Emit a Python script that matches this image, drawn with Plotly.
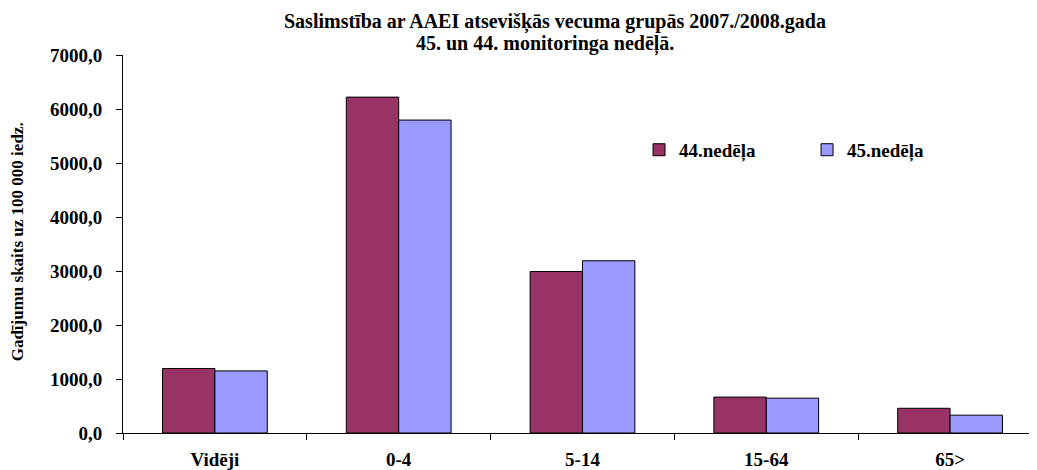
import plotly.graph_objects as go

categories = ["Vidēji", "0-4", "5-14", "15-64", "65>"]
week44 = [1195, 6220, 2990, 665, 458]
week45 = [1150, 5795, 3190, 645, 330]
series_names = ["44.nedēļa", "45.nedēļa"]
title_line1 = "Saslimstība ar AAEI atsevišķās vecuma grupās 2007./2008.gada"
title_line2 = "45. un 44. monitoringa nedēļā."
y_title = "Gadījumu skaits uz 100 000 iedz."

FONT = "Liberation Serif"

fig = go.Figure()
fig.add_trace(go.Bar(x=categories, y=week44, name=series_names[0],
                     marker=dict(color="#993366", line=dict(color="black", width=1))))
fig.add_trace(go.Bar(x=categories, y=week45, name=series_names[1],
                     marker=dict(color="#9999FF", line=dict(color="black", width=1))))

fig.update_layout(
    width=1029, height=462,
    margin=dict(l=115, r=0, t=47, b=35, pad=0),
    paper_bgcolor="white", plot_bgcolor="white",
    barmode="group", bargap=0.43, bargroupgap=0,
    separators=", ",
    font=dict(family=FONT, color="black", size=18),
    showlegend=True,
    legend=dict(orientation="h", x=0.5646, xanchor="left", y=0.749, yanchor="middle",
                font=dict(family=FONT, size=19, color="black", weight="bold"),
                entrywidth=123, entrywidthmode="pixels", bgcolor="rgba(0,0,0,0)",
                itemclick=False),
    xaxis=dict(range=[-0.5, 4.473], showline=True, linecolor="black", linewidth=1,
               ticks="outside", ticklen=6, tickcolor="black", tickson="boundaries",
               tickfont=dict(family=FONT, size=19, color="black", weight="bold"),
               ticklabelstandoff=9, showgrid=False, zeroline=False, fixedrange=True),
    yaxis=dict(range=[0, 7000], dtick=1000, tickformat=".1f", showline=True,
               linecolor="black", linewidth=1, ticks="outside", ticklen=6,
               tickcolor="black", showgrid=False, zeroline=False,
               tickfont=dict(family=FONT, size=19, color="black", weight="bold"),
               ticklabelstandoff=10, fixedrange=True),
    annotations=[
        dict(text=title_line1, xref="paper", yref="paper", x=0.4726, y=1.088,
             xanchor="center", yanchor="middle", showarrow=False, borderpad=0,
             font=dict(family=FONT, size=20, color="black", weight="bold")),
        dict(text=title_line2, xref="paper", yref="paper", x=0.4617, y=1.0302,
             xanchor="center", yanchor="middle", showarrow=False, borderpad=0,
             font=dict(family=FONT, size=20, color="black", weight="bold")),
        dict(text=y_title, xref="paper", yref="paper", x=-0.116, y=0.507,
             xanchor="center", yanchor="middle", showarrow=False, textangle=-90,
             font=dict(family=FONT, size=17, color="black", weight="bold")),
    ],
)

fig.write_html("out.html")
